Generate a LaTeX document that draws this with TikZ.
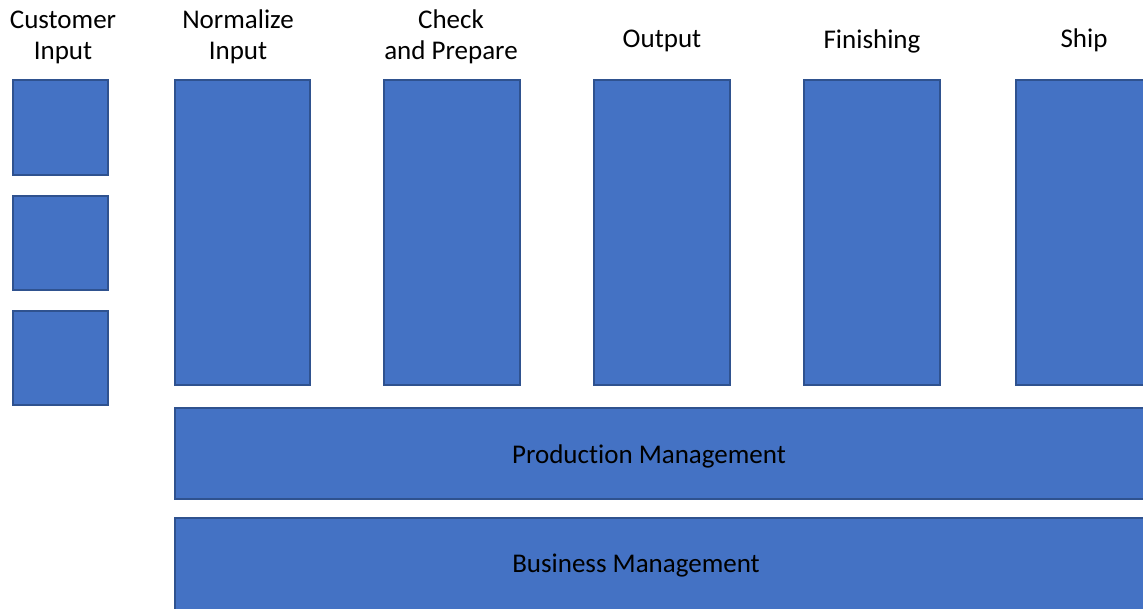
\documentclass[tikz,border=0pt]{standalone}
\usepackage{fontspec}
\setmainfont[Ligatures=NoCommon]{Carlito}
\begin{document}
\begin{tikzpicture}[x=1pt,y=-1pt,
  blk/.style={fill=blkfill,draw=blkline,line width=2.2pt},
  lbl/.style={font=\fontsize{27}{31}\selectfont,align=center,inner sep=0pt,text=black}]
\definecolor{blkfill}{HTML}{4472C4}
\definecolor{blkline}{HTML}{2F528F}
\useasboundingbox (0,0) rectangle (1143,608);
\clip (0,0) rectangle (1143,608);
% customer input boxes
\draw[blk] (13,80) rectangle (108,175) coordinate (c1);
\draw[blk] (13,196) rectangle (108,290) coordinate (c2);
\draw[blk] (13,311) rectangle (108,405) coordinate (c3);
% columns
\draw[blk] (175,80) rectangle (310,385);
\draw[blk] (384,80) rectangle (520,385);
\draw[blk] (594,80) rectangle (730,385);
\draw[blk] (804,80) rectangle (940,385);
\draw[blk] (1016,80) rectangle (1160,385);
% bars
\draw[blk] (175,408) rectangle (1160,499);
\node[lbl] (pm) at (649,456) {Production Management};
\draw[blk] (175,518) rectangle (1160,630);
\node[lbl] (bm) at (636,566) {Business Management};
% headers
\node[lbl] (t1) at (63,37) {Customer\\Input};
\node[lbl] (t2) at (238,37) {Normalize\\Input};
\node[lbl] (t3) at (451,37) {Check\\and Prepare};
\node[lbl] (t4) at (662,41) {Output};
\node[lbl] (t5) at (872,41) {Finishing};
\node[lbl] (t6) at (1084,40) {Ship};
\end{tikzpicture}
\end{document}
